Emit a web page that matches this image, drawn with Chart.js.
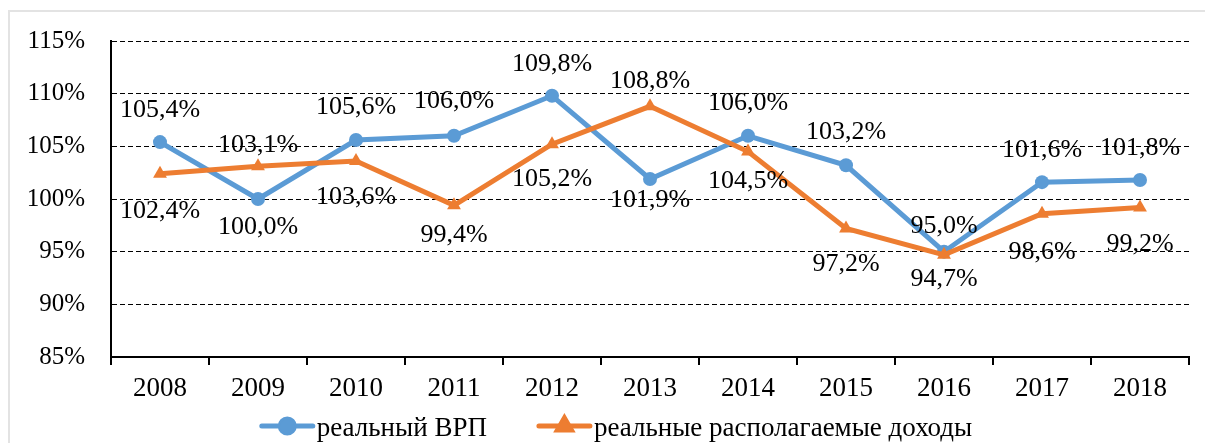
<!DOCTYPE html>
<html>
<head>
<meta charset="utf-8">
<script src="https://cdn.jsdelivr.net/npm/chart.js@4.4.0/dist/chart.umd.min.js"></script>
<style>
    body { margin: 0; background: #fff; }
    #wrap { position: relative; width: 1205px; height: 443px; overflow: hidden; }
    #frame { position: absolute; left: 8px; top: 10px; width: 1220px; height: 480px; border: 2px solid #e3e3e3; }
    #chart { position: absolute; left: 0; top: 0; }
</style>
</head>
<body>
<div id="wrap">
    <div id="frame"></div>
    <canvas id="chart" width="1205" height="443"></canvas>
</div>
<script>
const years = ['2008', '2009', '2010', '2011', '2012', '2013', '2014', '2015', '2016', '2017', '2018'];
const grpValues = [105.4, 100.0, 105.6, 106.0, 109.8, 101.9, 106.0, 103.2, 95.0, 101.6, 101.8];
const incomeValues = [102.4, 103.1, 103.6, 99.4, 105.2, 108.8, 104.5, 97.2, 94.7, 98.6, 99.2];
const seriesNames = ['реальный ВРП', 'реальные располагаемые доходы'];
const yTicks = [85, 90, 95, 100, 105, 110, 115];

// vertical placement of the value labels (px from the point), as in the original
const grpLabelShift = [-32, 28, -33, -35, -32, 21, -33, -33, -25, -32, -32];
const incomeLabelShift = [37, -21, 36, 30, 35, -25, 30, 36, 24, 38, 37];

const FONT = '"Liberation Serif"';
const BLUE = '#5B9BD5';
const ORANGE = '#ED7D31';

Chart.defaults.font.family = FONT;
Chart.defaults.color = '#000';

function fmt(v) {
    return v.toFixed(1).replace('.', ',') + '%';
}

// value labels next to every point
const valueLabels = {
    id: 'valueLabels',
    afterDatasetsDraw(chart) {
        const ctx = chart.ctx;
        ctx.save();
        ctx.font = '26px ' + FONT;
        ctx.fillStyle = '#000';
        ctx.textAlign = 'center';
        ctx.textBaseline = 'middle';
        chart.data.datasets.forEach((ds, di) => {
            const meta = chart.getDatasetMeta(di);
            meta.data.forEach((pt, i) => {
                ctx.fillText(fmt(ds.data[i]), pt.x, pt.y + ds.labelShift[i]);
            });
        });
        ctx.restore();
    }
};

// legend with a line + marker sample, like the office chart
const lineLegend = {
    id: 'lineLegend',
    afterDraw(chart) {
        const ctx = chart.ctx;
        const y = 426;
        const lineLen = 55, textGap = 2, itemGap = 50;
        ctx.save();
        ctx.font = '27px ' + FONT;
        const items = chart.data.datasets;
        const widths = items.map(ds => lineLen + textGap + ctx.measureText(ds.label).width);
        const total = widths.reduce((a, b) => a + b, 0) + itemGap * (items.length - 1);
        let x = 616 - total / 2;
        items.forEach((ds, i) => {
            ctx.strokeStyle = ds.borderColor;
            ctx.lineWidth = 5;
            ctx.lineCap = 'round';
            ctx.beginPath();
            ctx.moveTo(x + 2, y);
            ctx.lineTo(x + lineLen - 2, y);
            ctx.stroke();
            Chart.helpers.drawPoint(ctx, {
                pointStyle: ds.pointStyle,
                radius: ds.pointRadius,
                borderWidth: 1,
                rotation: 0
            }, x + lineLen / 2, y);
            ctx.fillStyle = ds.borderColor;
            ctx.fill();
            ctx.fillStyle = '#000';
            ctx.textAlign = 'left';
            ctx.textBaseline = 'middle';
            ctx.fillText(ds.label, x + lineLen + textGap, y + 3);
            x += widths[i] + itemGap;
        });
        ctx.restore();
    }
};

const ctx = document.getElementById('chart').getContext('2d');
new Chart(ctx, {
    type: 'line',
    data: {
        labels: years,
        datasets: [{
            label: seriesNames[0],
            data: grpValues,
            labelShift: grpLabelShift,
            borderColor: BLUE,
            backgroundColor: BLUE,
            borderWidth: 5,
            pointStyle: 'circle',
            pointRadius: 7,
            pointBorderWidth: 0,
            tension: 0,
            order: 1
        }, {
            label: seriesNames[1],
            data: incomeValues,
            labelShift: incomeLabelShift,
            borderColor: ORANGE,
            backgroundColor: ORANGE,
            borderWidth: 5,
            pointStyle: 'triangle',
            pointRadius: 8,
            pointBorderWidth: 0,
            tension: 0,
            order: 0
        }]
    },
    options: {
        responsive: false,
        animation: false,
        layout: { padding: { top: 34, right: 16, left: 0, bottom: 0 } },
        plugins: {
            legend: { display: false },
            tooltip: { enabled: false }
        },
        scales: {
            x: {
                offset: true,
                grid: {
                    offset: true,
                    drawOnChartArea: false,
                    drawTicks: true,
                    tickLength: 8,
                    color: '#000',
                    lineWidth: 2
                },
                border: { display: true, color: '#000', width: 2 },
                ticks: {
                    color: '#000',
                    font: { family: FONT, size: 27 },
                    padding: 8,
                    maxRotation: 0
                },
                afterFit(scale) { scale.height = 86; }
            },
            y: {
                min: 85,
                max: 115,
                afterBuildTicks(scale) {
                    scale.ticks = yTicks.map(v => ({ value: v }));
                },
                grid: {
                    color: '#000',
                    lineWidth: 1,
                    drawTicks: false
                },
                border: { display: true, color: '#000', width: 2, dash: [5, 3] },
                ticks: {
                    color: '#000',
                    font: { family: FONT, size: 25 },
                    padding: 26,
                    callback: v => v + '%'
                },
                afterFit(scale) { scale.width = 111; }
            }
        }
    },
    plugins: [valueLabels, lineLegend]
});
</script>
</body>
</html>
